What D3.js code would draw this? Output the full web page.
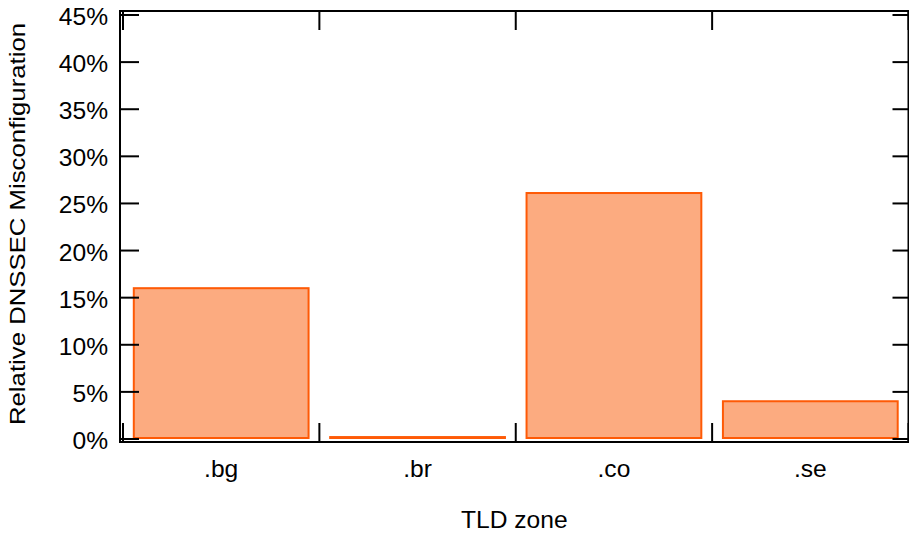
<!DOCTYPE html>
<html>
<head>
<meta charset="utf-8">
<script src="https://cdn.jsdelivr.net/npm/d3@7"></script>
<style>
  body { margin: 0; background: #fff; }
  svg text { font-family: "Liberation Sans", Arial, sans-serif; font-size: 23px; fill: #000; }
</style>
</head>
<body>
<div id="chart"></div>
<script>
var zones = [".bg", ".br", ".co", ".se"];
var misconfig = [15.9, 0.1, 26.0, 3.9];
var yTicks = [0, 5, 10, 15, 20, 25, 30, 35, 40, 45];

var width = 909, height = 537;
var svg = d3.select("#chart").append("svg").attr("width", width).attr("height", height);

// frame of the plot area
var frame = { left: 120, right: 908.5, top: 11, bottom: 442 };

// the reference font is drawn a little wider than Liberation Sans
var stretch = 1.07;

var y = d3.scaleLinear().domain([0, 45]).range([439, 15]);
var xEdge = d3.scaleBand().domain(zones).range([123, frame.right]).padding(0);
var xBar = d3.scaleBand().domain(zones).range([123, frame.right]).paddingInner(0.11).paddingOuter(0.055);

var data = zones.map(function (z, i) { return { zone: z, value: misconfig[i] }; });

// bars
svg.append("g").selectAll("rect")
    .data(data)
    .enter().append("rect")
    .attr("x", function (d) { return xBar(d.zone); })
    .attr("width", xBar.bandwidth())
    .attr("y", function (d) { return y(d.value) - 1; })
    .attr("height", function (d) { return Math.max(0, y(0) - y(d.value)); })
    .attr("fill", "#fcab80")
    .attr("stroke", "#fe5a06")
    .attr("stroke-width", 2);

// y ticks (left and right, pointing inwards)
var ticks = svg.append("g").attr("stroke", "#000").attr("stroke-width", 2);
yTicks.forEach(function (t) {
    ticks.append("line").attr("x1", frame.left).attr("x2", frame.left + 19)
        .attr("y1", y(t)).attr("y2", y(t));
    ticks.append("line").attr("x1", frame.right - 16).attr("x2", frame.right)
        .attr("y1", y(t)).attr("y2", y(t));
});

// x ticks at category boundaries (bottom and top)
var edges = zones.map(function (z) { return xEdge(z); }).concat([frame.right]);
edges.forEach(function (e) {
    ticks.append("line").attr("x1", e).attr("x2", e).attr("y1", frame.bottom).attr("y2", frame.bottom - 19);
    ticks.append("line").attr("x1", e).attr("x2", e).attr("y1", frame.top).attr("y2", frame.top + 19);
});

// border
svg.append("rect")
    .attr("x", frame.left).attr("y", frame.top)
    .attr("width", frame.right - frame.left).attr("height", frame.bottom - frame.top)
    .attr("fill", "none").attr("stroke", "#000").attr("stroke-width", 2);

// y tick labels
svg.append("g").selectAll("text")
    .data(yTicks)
    .enter().append("text")
    .attr("transform", function (d) { return "translate(108," + (y(d) + 10) + ") scale(" + stretch + ",1)"; })
    .attr("text-anchor", "end")
    .text(function (d) { return d + "%"; });

// x category labels
svg.append("g").selectAll("text")
    .data(zones)
    .enter().append("text")
    .attr("transform", function (d) {
        return "translate(" + (xEdge(d) + xEdge.bandwidth() / 2) + ",477) scale(" + stretch + ",1)";
    })
    .attr("text-anchor", "middle")
    .text(function (d) { return d; });

// axis titles
svg.append("text")
    .attr("transform", "translate(" + (frame.left + frame.right) / 2 + ",528) scale(" + stretch + ",1)")
    .attr("text-anchor", "middle")
    .text("TLD zone");

svg.append("text")
    .attr("transform", "translate(25,224) rotate(-90) scale(1.12,1)")
    .attr("text-anchor", "middle")
    .text("Relative DNSSEC Misconfiguration");
</script>
</body>
</html>
